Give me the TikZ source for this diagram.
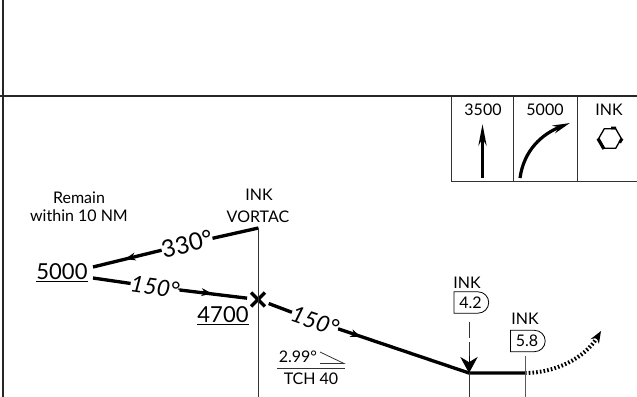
\documentclass[tikz,border=0pt]{standalone}
\usepackage{fontspec}
\setmainfont{Lato}
\usetikzlibrary{calc, positioning, arrows.meta, shapes.geometric, shapes.misc}

\begin{document}
\begin{tikzpicture}[
    x=0.75pt, y=-0.75pt,
    >=Stealth,
    frameline/.style={line width=1.5pt, black!85},
    thinline/.style={line width=0.6pt, black!80},
    leg/.style={line width=2.5pt, line cap=butt},
    txt/.style={inner sep=0pt, font=\fontsize{12}{13.5}\selectfont, align=center},
    bignum/.style={inner sep=1pt, font=\fontsize{16.5}{18}\selectfont},
    course/.style={inner sep=0pt, font=\fontsize{17}{18}\selectfont\itshape},
    fixbox/.style={draw, line width=0.6pt, inner sep=0pt, font=\fontsize{12}{13}\selectfont, minimum width=26pt, minimum height=16pt, shape=rounded rectangle, rounded rectangle left arc=none}
]
    \useasboundingbox (0,0) rectangle (637,397);

    % Frame
    \draw[frameline] (3,0) -- (3,397);
    \draw[frameline] (0,96) -- (637,96);

    % Missed approach icons
    \draw[thinline] (451,97) -- (451,181) -- (637,181);
    \draw[thinline] (513,97) -- (513,181);
    \draw[thinline] (577,97) -- (577,181);
    \node[txt] (icon_alt1) at (483,110) {3500};
    \node[txt] (icon_alt2) at (545,110) {5000};
    \node[txt] (icon_ink) at (609,110) {INK};
    \draw[-{Stealth[length=16pt,width=6pt]}, line width=2.4pt] (482.5,178) -- (482.5,124);
    \draw[-{Stealth[length=13pt,width=6pt]}, line width=2.4pt] (520,178) .. controls (524,150) and (542,134) .. (570,123);
    \node[regular polygon, regular polygon sides=6, draw, line width=1pt, minimum size=17pt, inner sep=0pt] (icon_vor) at (610,138.5) {};
    \draw[line width=2.4pt] (icon_vor.corner 3) -- (icon_vor.corner 4);
    \draw[line width=2.2pt] (icon_vor.corner 1) -- ($(icon_vor.corner 1)!0.4!(icon_vor.corner 2)$);
    \draw[line width=2.2pt] (icon_vor.corner 6) -- ($(icon_vor.corner 6)!0.4!(icon_vor.corner 5)$);

    % Labels
    \node[txt] (remain) at (79,207) {Remain\\within 10 NM};
    \node[txt] (ink_name) at (259,195) {INK};
    \node[txt] (ink_vortac) at (258,217) {VORTAC};
    \node[bignum] (alt5000) at (62,273) {\underline{5000}};
    \node[bignum] (alt4700) at (223,316) {\underline{4700}};
    \node[course, rotate=14, font=\fontsize{18}{18}\selectfont] (crs330) at (187,244) {330°};
    \node[course, rotate=-8] (crs150a) at (155,287) {150°};
    \node[course, rotate=-19] (crs150b) at (315,321) {150°};
    \node[cross out, draw, line width=2.4pt, minimum size=8pt, inner sep=0pt] (vortac_x) at (258,299.5) {};

    % Procedure track
    \coordinate (vortac_top) at (258.5,228);
    \coordinate (leg_a) at (93,267);
    \coordinate (leg_b) at (93,278);
    \coordinate (fix_a) at (469,373);
    \coordinate (fix_b) at (525,373);
    \coordinate (dot_end) at (601,331);
    \draw[leg] (vortac_top) -- (crs330);
    \draw[leg] (crs330) -- (leg_a);
    \draw[leg] (leg_b) -- (crs150a);
    \draw[leg, shorten >=3pt] (crs150a) -- (vortac_x);
    \draw[leg, shorten <=3pt] (vortac_x) -- (crs150b);
    \draw[leg] (crs150b) -- (fix_a) -- (fix_b);
    \draw[-{Stealth[length=8pt,width=6pt]}, line width=0.8pt] (158,251) -- (125,259);
    \draw[-{Stealth[length=8pt,width=6pt]}, line width=0.8pt] (178,289) -- (212,293.5);
    \draw[-{Stealth[length=8pt,width=6pt]}, line width=0.8pt] (338,328) -- (361,337);
    \draw[line width=3pt, dash pattern=on 1.2pt off 1.6pt, -{Stealth[length=9pt,width=7pt]}] (fix_b) .. controls (555,373) and (585,358) .. (dot_end);

    % Vertical lines
    \draw[thinline] (vortac_top) -- (258.5,397);
    \draw[thinline] (fix_a) -- (469,397);
    \draw[thinline, black!65] (525,356) -- (525,397);

    % Fixes
    \node[txt] (ink_fix1) at (467,283) {INK};
    \node[fixbox] (fix_42) at (470.5,302.5) {4.2};
    \node[txt] (ink_fix2) at (525,319) {INK};
    \node[fixbox] (fix_58) at (527,341) {5.8};
    \draw[thinline, dash pattern=on 12pt off 3pt] (469,322) -- (fix_a);
    \draw[-{Stealth[length=12pt,width=13pt]}, line width=0.6pt] (469,356) -- (fix_a);

    % Glide path
    \node[txt] (gs_angle) at (298,357) {2.99°};
    \node[txt] (tch) at (311,379) {TCH 40};
    \coordinate (gs_l) at (277,368);
    \coordinate (gs_r) at (345,368);
    \draw[thinline] (gs_l) -- (gs_r);
    \draw[thinline] (320,352) -- (344,363.5) -- (320,363.5);

\end{tikzpicture}
\end{document}
